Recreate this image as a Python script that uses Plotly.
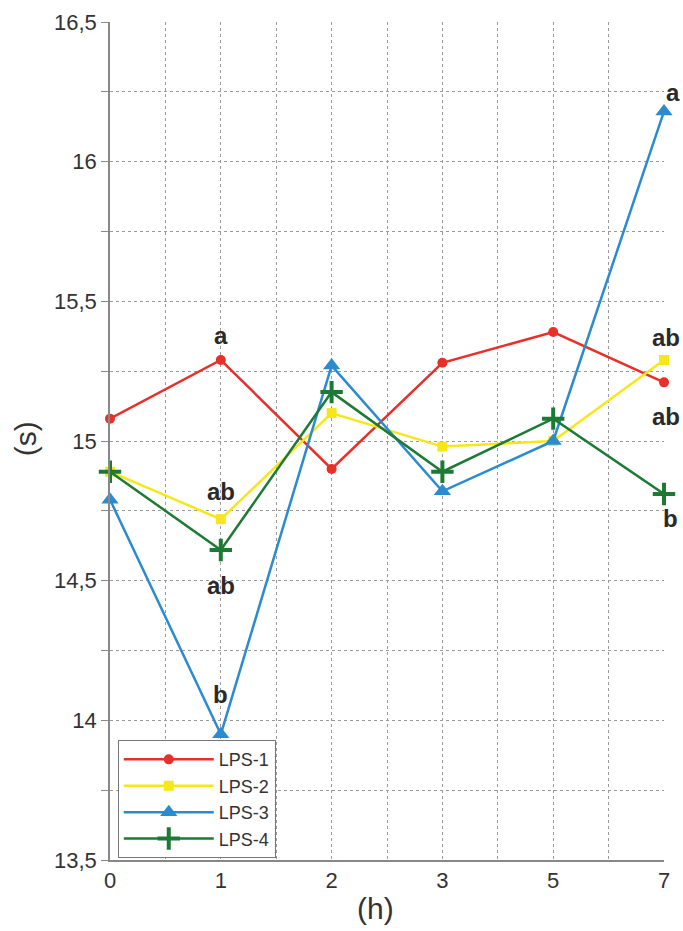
import plotly.graph_objects as go

hours = ["0", "1", "2", "3", "5", "7"]
lps1 = [15.08, 15.29, 14.90, 15.28, 15.39, 15.21]
lps2 = [14.89, 14.72, 15.10, 14.98, 15.00, 15.29]
lps3 = [14.79, 13.95, 15.27, 14.82, 15.00, 16.18]
lps4 = [14.89, 14.61, 15.175, 14.89, 15.08, 14.81]
names = ["LPS-1", "LPS-2", "LPS-3", "LPS-4"]
y_ticks = [13.5, 14, 14.5, 15, 15.5, 16, 16.5]
y_ticktext = ["13,5", "14", "14,5", "15", "15,5", "16", "16,5"]

# significance letters: (hour index, series, text, pixel shift)
letters = [
    (1, lps1, "a", 24), (1, lps2, "ab", 28), (1, lps4, "ab", -36), (1, lps3, "b", 40),
    (5, lps3, "a", 19), (5, lps2, "ab", 22), (5, lps1, "ab", -34), (5, lps4, "b", -24),
]

xpos = list(range(len(hours)))
colors = ["#e8302a", "#f7e71a", "#2b8bd0", "#1c7a35"]
symbols = ["circle", "square", "triangle-up", "cross-thin"]
sizes = [10, 10, 15, 16]

fig = go.Figure()
for name, vals, c, s, sz in zip(names, [lps1, lps2, lps3, lps4], colors, symbols, sizes):
    marker = dict(color=c, symbol=s, size=sz)
    if s == "cross-thin":
        marker["line"] = dict(color=c, width=4)
    fig.add_trace(go.Scatter(x=xpos, y=vals, name=name, mode="lines+markers",
                             line=dict(color=c, width=2.5), marker=marker,
                             cliponaxis=False))

for xi, series, txt, shift in letters:
    xs = 0
    if xi == 5:
        xs = 9 if txt == "a" else (6 if txt == "b" else 2)
    fig.add_annotation(x=xi, y=series[xi], xref="x", yref="y", text="<b>" + txt + "</b>",
                       showarrow=False, yshift=shift, xanchor="center", yanchor="middle",
                       xshift=xs,
                       font=dict(size=24, color="#2a2a2a", family="Liberation Sans"))

fig.add_annotation(x=-0.152, y=0.503, xref="paper", yref="paper", text="(s)", textangle=-90,
                   xanchor="center", yanchor="middle",
                   showarrow=False, font=dict(size=30, color="#333", family="Liberation Sans"))
fig.add_annotation(x=0.48, y=-0.058, xref="paper", yref="paper", text="(h)",
                   xanchor="center", yanchor="middle",
                   showarrow=False, font=dict(size=30, color="#333", family="Liberation Sans"))

grid_col = "#9a9a9a"
fig.update_xaxes(range=[0, 5], tickvals=xpos, ticktext=hours, showgrid=True, gridcolor=grid_col,
                 griddash="dot", gridwidth=1, showline=True, linecolor="#888", linewidth=1.5,
                 ticks="", tickfont=dict(size=22, color="#333"), zeroline=False, automargin=False,
                 minor=dict(dtick=0.5, tick0=0, showgrid=True, gridcolor=grid_col, griddash="dot", gridwidth=1))
fig.update_yaxes(range=[13.5, 16.5], tickvals=y_ticks, ticktext=y_ticktext, showgrid=True,
                 gridcolor=grid_col, griddash="dot", gridwidth=1, showline=True, linecolor="#888",
                 linewidth=1.5, ticks="outside", ticklen=7, tickcolor="#888", automargin=False,
                 tickfont=dict(size=22, color="#333"), zeroline=False,
                 minor=dict(dtick=0.25, tick0=13.5, showgrid=True, gridcolor=grid_col, griddash="dot",
                            gridwidth=1, ticks="outside", ticklen=7, tickcolor="#888"))

fig.update_layout(
    width=683, height=931,
    margin=dict(l=110, r=19, t=22, b=71, autoexpand=False),
    plot_bgcolor="white", paper_bgcolor="white",
    font=dict(family="Liberation Sans", color="#333"),
    showlegend=True,
    legend=dict(x=0.014, y=0.143, xanchor="left", yanchor="top", bgcolor="white",
                bordercolor="#777", borderwidth=1, font=dict(size=18, color="#333"),
                itemwidth=90, tracegroupgap=0),
)

# remove the browser's default 8px body margin so the figure fills the window
fig.write_html("out.html", config={"displayModeBar": False},
               post_script="document.body.style.margin='0';document.body.style.overflow='hidden';")
